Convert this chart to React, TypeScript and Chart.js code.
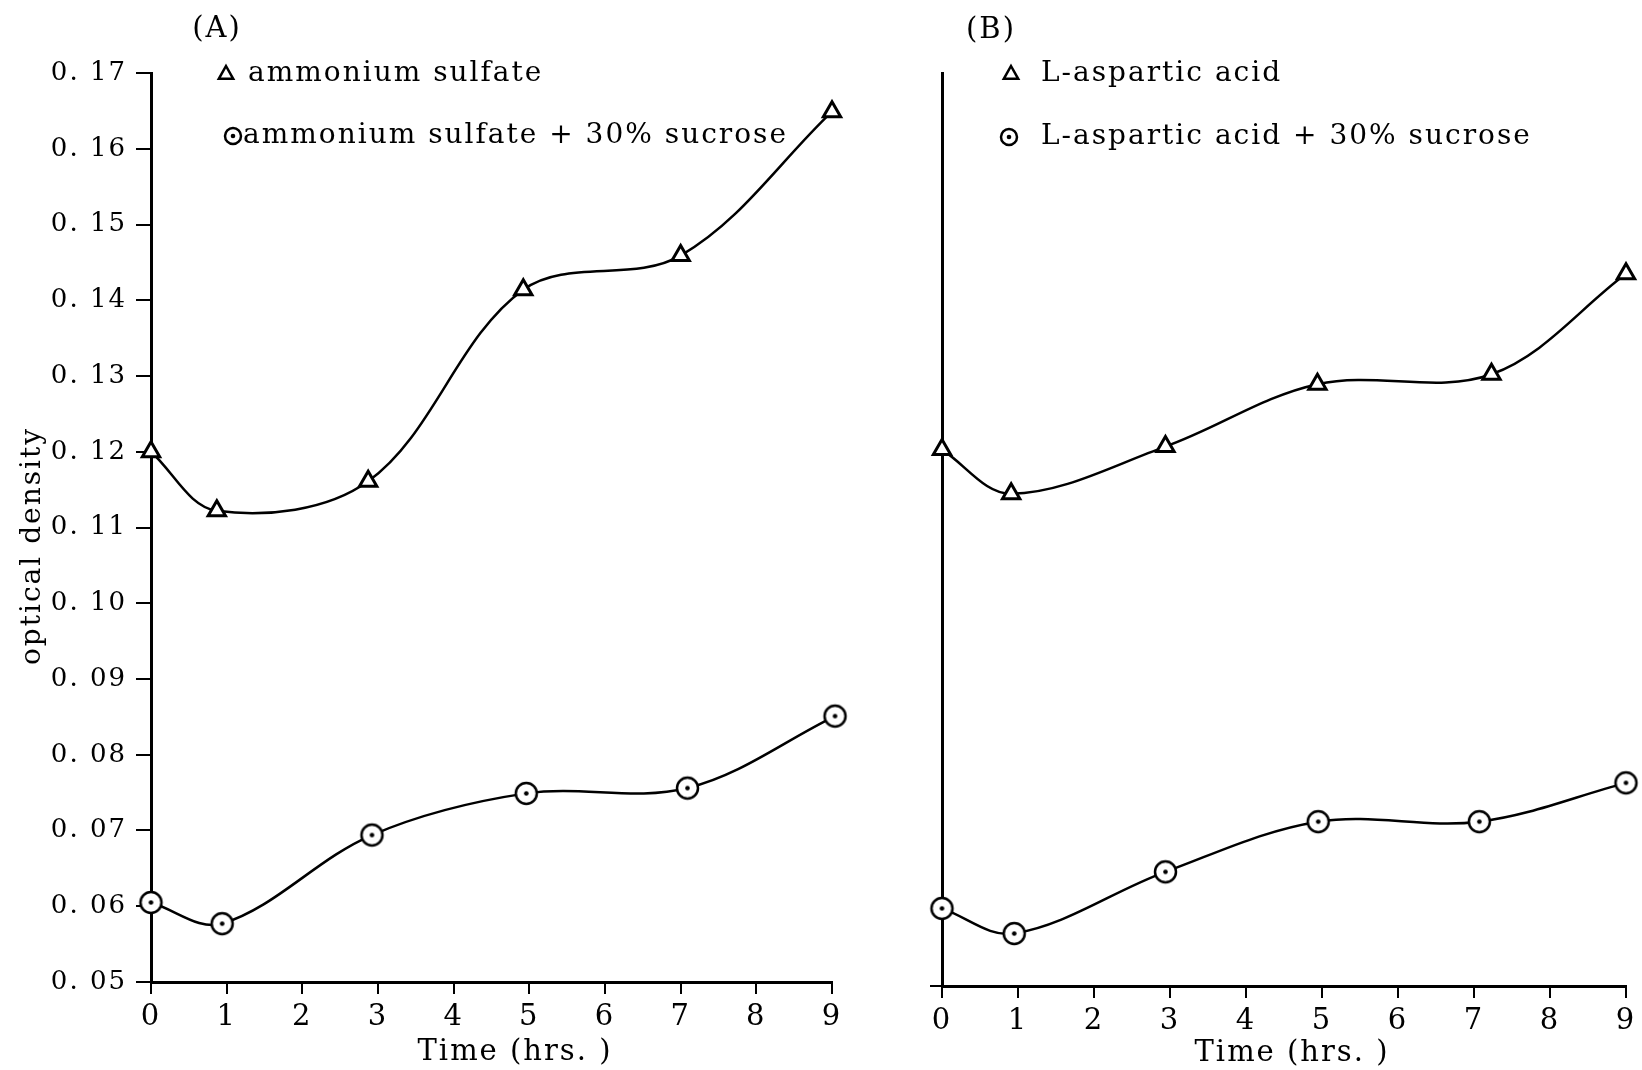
import React, { useEffect, useRef } from 'react';
import { Chart, registerables } from 'chart.js';

Chart.register(...registerables);

// ---- data ----
const hourTickLabels = ['0', '1', '2', '3', '4', '5', '6', '7', '8', '9'];
const odTickLabels = ['0. 05', '0. 06', '0. 07', '0. 08', '0. 09', '0. 10', '0. 11', '0. 12', '0. 13', '0. 14', '0. 15', '0. 16', '0. 17'];

// Panel (A)
const aTriHours = [0, 0.87, 2.87, 4.92, 7.0, 9.0];
const aTriOD = [0.12, 0.1122, 0.1161, 0.1414, 0.1459, 0.1649];
const aCirHours = [0, 0.94, 2.92, 4.96, 7.09, 9.04];
const aCirOD = [0.0605, 0.0577, 0.0694, 0.0749, 0.0756, 0.0851];

// Panel (B)
const bTriHours = [0, 0.91, 2.94, 4.94, 7.23, 9.0];
const bTriOD = [0.1205, 0.1147, 0.1209, 0.1291, 0.1304, 0.1436];
const bCirHours = [0, 0.95, 2.94, 4.95, 7.07, 9.0];
const bCirOD = [0.0602, 0.0569, 0.065, 0.0716, 0.0716, 0.0767];

const panelALabel = '(A)';
const panelBLabel = '(B)';
const aLegend = ['ammonium sulfate', 'ammonium sulfate + 30% sucrose'];
const bLegend = ['L-aspartic acid', 'L-aspartic acid + 30% sucrose'];
const xTitle = 'Time (hrs. )';
const yTitle = 'optical density';

const FONT = '"DejaVu Serif", "Liberation Serif", serif';

function makeDotCircle(r: number): HTMLCanvasElement {
  const size = Math.ceil(r * 2 + 6);
  const c = document.createElement('canvas');
  c.width = size;
  c.height = size;
  const g = c.getContext('2d')!;
  const m = size / 2;
  g.beginPath();
  g.arc(m, m, r, 0, Math.PI * 2);
  g.fillStyle = '#fff';
  g.fill();
  g.lineWidth = 2.5;
  g.strokeStyle = '#000';
  g.stroke();
  g.beginPath();
  g.arc(m, m, 2.3, 0, Math.PI * 2);
  g.fillStyle = '#000';
  g.fill();
  return c;
}

function toXY(xs: number[], ys: number[]) {
  return xs.map((x, i) => ({ x, y: ys[i] }));
}

type DecorCfg = {
  label: string;
  labelX: number;
  labelY: number;
  legend: string[];
  triX: number;
  triY: number;
  cirX: number;
  cirY: number;
  textX: number;
  textX2: number;
  xTitleX: number;
  xTitleY: number;
  yTitleX?: number;
  yTitleY?: number;
  smallCircle: HTMLCanvasElement;
};

const spacingPlugin = {
  id: 'typewriterSpacing',
  beforeDraw(chart: any) {
    (chart.ctx as any).letterSpacing = '2px';
  },
};

function decorPlugin(cfg: DecorCfg) {
  return {
    id: 'decor',
    afterDraw(chart: any) {
      const ctx = chart.ctx as CanvasRenderingContext2D;
      ctx.save();
      (ctx as any).letterSpacing = '2px';
      ctx.fillStyle = '#000';
      ctx.strokeStyle = '#000';
      ctx.font = `29px ${FONT}`;
      ctx.textAlign = 'center';
      ctx.textBaseline = 'middle';
      ctx.fillText(cfg.label, cfg.labelX, cfg.labelY);

      // axis titles
      ctx.fillText(xTitle, cfg.xTitleX, cfg.xTitleY);
      if (cfg.yTitleX !== undefined && cfg.yTitleY !== undefined) {
        ctx.save();
        ctx.translate(cfg.yTitleX, cfg.yTitleY);
        ctx.rotate(-Math.PI / 2);
        ctx.font = `28px ${FONT}`;
        ctx.fillText(yTitle, 0, 0);
        ctx.restore();
      }

      // legend triangle
      const r = 8;
      ctx.beginPath();
      ctx.moveTo(cfg.triX, cfg.triY - r);
      ctx.lineTo(cfg.triX + r * 0.9, cfg.triY + r * 0.6);
      ctx.lineTo(cfg.triX - r * 0.9, cfg.triY + r * 0.6);
      ctx.closePath();
      ctx.lineWidth = 2.5;
      ctx.stroke();
      // legend circle
      const sc = cfg.smallCircle;
      ctx.drawImage(sc, cfg.cirX - sc.width / 2, cfg.cirY - sc.height / 2);

      ctx.font = `28px ${FONT}`;
      ctx.textAlign = 'left';
      ctx.fillText(cfg.legend[0], cfg.textX, cfg.triY);
      ctx.fillText(cfg.legend[1], cfg.textX2, cfg.cirY);
      ctx.restore();
    },
  };
}

function buildConfig(opts: {
  tri: { x: number; y: number }[];
  cir: { x: number; y: number }[];
  names: string[];
  circleImg: HTMLCanvasElement;
  yWidth: number;
  xHeight: number;
  padTop: number;
  padRight: number;
  showYLabels: boolean;
  plugin: any;
}): any {
  return {
    type: 'line',
    data: {
      datasets: [
        {
          label: opts.names[0],
          data: opts.tri,
          borderColor: '#000',
          borderWidth: 2.5,
          tension: 0.35,
          pointStyle: 'triangle',
          pointRadius: 10,
          pointBorderWidth: 3,
          pointBackgroundColor: '#fff',
          pointBorderColor: '#000',
          clip: false,
        },
        {
          label: opts.names[1],
          data: opts.cir,
          borderColor: '#000',
          borderWidth: 2.5,
          tension: 0.35,
          pointStyle: opts.circleImg,
          pointRadius: 11,
          clip: false,
        },
      ],
    },
    options: {
      responsive: false,
      animation: false,
      devicePixelRatio: 1,
      layout: { padding: { top: opts.padTop, right: opts.padRight, left: 0, bottom: 0 } },
      plugins: {
        legend: { display: false },
        tooltip: { enabled: false },
      },
      scales: {
        x: {
          type: 'linear',
          min: 0,
          max: 9,
          ticks: {
            stepSize: 1,
            color: '#000',
            font: { family: FONT, size: 29 },
            padding: 6,
            callback: (v: number) => hourTickLabels[Math.round(v)],
          },
          grid: {
            drawOnChartArea: false,
            drawTicks: true,
            tickLength: 12,
            lineWidth: 2,
            color: '#000',
          },
          border: { display: true, color: '#000', width: 3 },
          title: { display: false },
          afterFit: (s: any) => {
            s.height = opts.xHeight;
          },
        },
        y: {
          type: 'linear',
          min: 0.05,
          max: 0.17,
          ticks: {
            stepSize: 0.01,
            display: opts.showYLabels,
            color: '#000',
            font: { family: FONT, size: 26 },
            padding: 9,
            callback: (v: number) => odTickLabels[Math.round((v - 0.05) / 0.01)],
          },
          grid: {
            drawOnChartArea: false,
            drawTicks: true,
            tickLength: opts.showYLabels ? 15 : 12,
            lineWidth: 2,
            color: opts.showYLabels
              ? '#000'
              : (c: any) => (c.tick && Math.abs(c.tick.value - 0.05) < 1e-6 ? '#000' : 'rgba(0,0,0,0)'),
          },
          border: { display: true, color: '#000', width: 3 },
          title: { display: false },
          afterFit: (s: any) => {
            s.width = opts.yWidth;
          },
        },
      },
    },
    plugins: [spacingPlugin, opts.plugin],
  };
}

export default function App() {
  const refA = useRef<HTMLCanvasElement>(null);
  const refB = useRef<HTMLCanvasElement>(null);

  useEffect(() => {
    const bigCircle = makeDotCircle(10.5);
    const smallCircle = makeDotCircle(8);

    const plugA = decorPlugin({
      label: panelALabel,
      labelX: 217,
      labelY: 29,
      legend: aLegend,
      triX: 226,
      triY: 74,
      cirX: 233,
      cirY: 136,
      textX: 248,
      textX2: 243,
      xTitleX: 515,
      xTitleY: 1052,
      yTitleX: 33,
      yTitleY: 546,
      smallCircle,
    });
    const plugB = decorPlugin({
      label: panelBLabel,
      labelX: 131,
      labelY: 30,
      legend: bLegend,
      triX: 151,
      triY: 74,
      cirX: 149,
      cirY: 137,
      textX: 181,
      textX2: 181,
      xTitleX: 432,
      xTitleY: 1053,
      smallCircle,
    });

    const chartA = new Chart(
      refA.current!,
      buildConfig({
        tri: toXY(aTriHours, aTriOD),
        cir: toXY(aCirHours, aCirOD),
        names: aLegend,
        circleImg: bigCircle,
        yWidth: 151,
        xHeight: 88,
        padTop: 73,
        padRight: 28,
        showYLabels: true,
        plugin: plugA,
      })
    );
    const chartB = new Chart(
      refB.current!,
      buildConfig({
        tri: toXY(bTriHours, bTriOD),
        cir: toXY(bCirHours, bCirOD),
        names: bLegend,
        circleImg: bigCircle,
        yWidth: 82,
        xHeight: 84,
        padTop: 73,
        padRight: 16,
        showYLabels: false,
        plugin: plugB,
      })
    );
    return () => {
      chartA.destroy();
      chartB.destroy();
    };
  }, []);

  return (
    <div style={{ position: 'fixed', left: 0, top: 0, width: 1642, height: 1070, background: '#fff', overflow: 'hidden' }}>
      <canvas ref={refA} width={860} height={1070} style={{ position: 'absolute', left: 0, top: 0, width: 860, height: 1070 }} />
      <canvas ref={refB} width={782} height={1070} style={{ position: 'absolute', left: 860, top: 0, width: 782, height: 1070 }} />
    </div>
  );
}
